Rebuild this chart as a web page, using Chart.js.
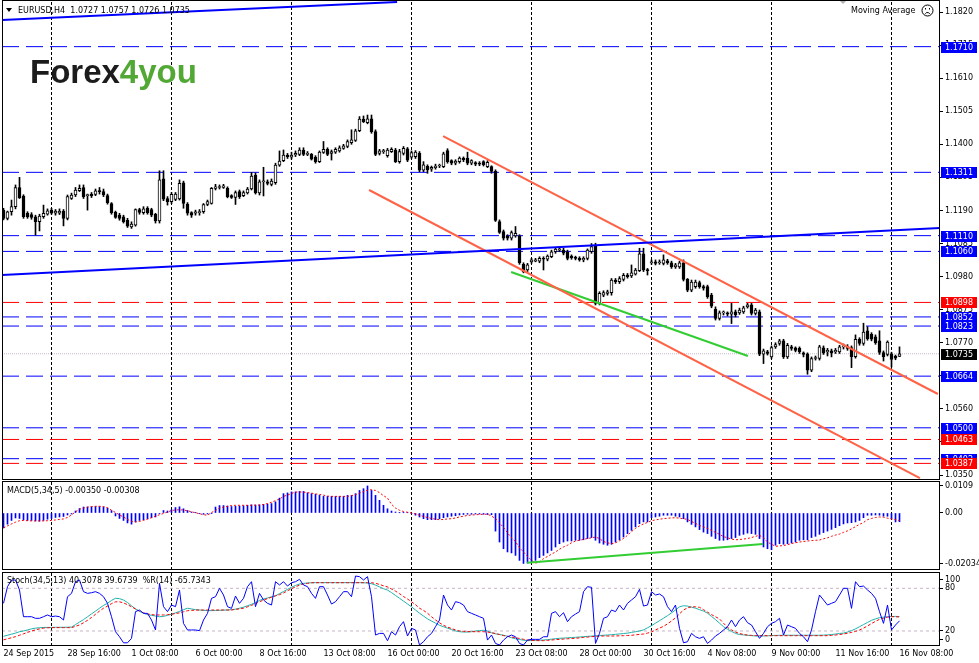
<!DOCTYPE html>
<html>
<head>
<meta charset="utf-8">
<script src="https://cdn.jsdelivr.net/npm/chart.js@4.4.0/dist/chart.umd.min.js"></script>
<style>
  html, body { margin: 0; padding: 0; background: #fff; }
  body { width: 979px; height: 663px; position: relative; overflow: hidden; }
  canvas { position: absolute; left: 0; }
</style>
</head>
<body>
<canvas id="priceChart" width="979" height="480" style="top:0px"></canvas>
<canvas id="macdChart" width="979" height="89" style="top:481px"></canvas>
<canvas id="stochChart" width="979" height="91" style="top:572px"></canvas>
<script>
// EURUSD H4 candles, 24 Sep 2015 00:00 .. 16 Nov 2015 08:00
const OPEN = [
  1.1191, 1.1165, 1.1186, 1.1202, 1.1263, 1.1236, 1.1181, 1.1177, 1.1170, 1.1154,
  1.1170, 1.1178, 1.1191, 1.1181, 1.1181, 1.1188, 1.1165, 1.1228, 1.1239, 1.1253,
  1.1263, 1.1237, 1.1242, 1.1241, 1.1252, 1.1250, 1.1237, 1.1212, 1.1185, 1.1175,
  1.1170, 1.1159, 1.1138, 1.1143, 1.1193, 1.1183, 1.1197, 1.1193, 1.1178, 1.1157,
  1.1290, 1.1228, 1.1218, 1.1225, 1.1227, 1.1278, 1.1210, 1.1183, 1.1181, 1.1183,
  1.1186, 1.1209, 1.1212, 1.1260, 1.1263, 1.1263, 1.1260, 1.1237, 1.1231, 1.1250,
  1.1237, 1.1246, 1.1258, 1.1302, 1.1246, 1.1281, 1.1281, 1.1273, 1.1278, 1.1334,
  1.1348, 1.1366, 1.1359, 1.1366, 1.1368, 1.1382, 1.1368, 1.1368, 1.1359, 1.1345,
  1.1374, 1.1384, 1.1371, 1.1375, 1.1379, 1.1387, 1.1393, 1.1405, 1.1412, 1.1443,
  1.1480, 1.1469, 1.1481, 1.1440, 1.1371, 1.1377, 1.1364, 1.1377, 1.1382, 1.1345,
  1.1371, 1.1386, 1.1359, 1.1361, 1.1371, 1.1318, 1.1330, 1.1321, 1.1326, 1.1331,
  1.1329, 1.1380, 1.1348, 1.1340, 1.1345, 1.1356, 1.1356, 1.1340, 1.1342, 1.1340,
  1.1345, 1.1329, 1.1329, 1.1314, 1.1155, 1.1123, 1.1109, 1.1102, 1.1109, 1.1109,
  1.1019, 1.1001, 1.1027, 1.1029, 1.1029, 1.1038, 1.1035, 1.1043, 1.1059, 1.1064,
  1.1064, 1.1059, 1.1045, 1.1040, 1.1038, 1.1033, 1.1038, 1.1059, 1.1080, 1.0895,
  1.0921, 1.0927, 1.0929, 1.0969, 1.0964, 1.0971, 1.0985, 1.0982, 1.0988, 1.0999,
  1.1052, 1.1001, 1.1024, 1.1027, 1.1024, 1.1022, 1.1030, 1.1024, 1.1011, 1.1011,
  1.1024, 1.0971, 1.0937, 1.0948, 1.0961, 1.0948, 1.0948, 1.0921, 1.0876, 1.0847,
  1.0865, 1.0865, 1.0861, 1.0868, 1.0865, 1.0868, 1.0884, 1.0890, 1.0863, 1.0868,
  1.0734, 1.0741, 1.0725, 1.0757, 1.0768, 1.0776, 1.0725, 1.0757, 1.0754, 1.0752,
  1.0738, 1.0734, 1.0683, 1.0720, 1.0720, 1.0754, 1.0741, 1.0744, 1.0741, 1.0741,
  1.0757, 1.0758, 1.0755, 1.0726, 1.0781, 1.0768, 1.0808, 1.0797, 1.0789, 1.0776,
  1.0739, 1.0733, 1.0735, 1.0728, 1.0727
];
const HIGH = [
  1.1197, 1.1188, 1.1223, 1.1271, 1.1295, 1.1240, 1.1186, 1.1183, 1.1175, 1.1178,
  1.1207, 1.1195, 1.1197, 1.1193, 1.1195, 1.1193, 1.1239, 1.1245, 1.1263, 1.1271,
  1.1271, 1.1242, 1.1247, 1.1258, 1.1263, 1.1258, 1.1242, 1.1215, 1.1188, 1.1181,
  1.1175, 1.1165, 1.1154, 1.1195, 1.1197, 1.1202, 1.1202, 1.1197, 1.1181, 1.1316,
  1.1316, 1.1234, 1.1247, 1.1247, 1.1287, 1.1283, 1.1215, 1.1186, 1.1191, 1.1193,
  1.1212, 1.1223, 1.1263, 1.1273, 1.1271, 1.1273, 1.1265, 1.1240, 1.1252, 1.1255,
  1.1252, 1.1263, 1.1311, 1.1309, 1.1287, 1.1327, 1.1287, 1.1290, 1.1340, 1.1379,
  1.1382, 1.1371, 1.1375, 1.1379, 1.1389, 1.1389, 1.1377, 1.1371, 1.1364, 1.1379,
  1.1409, 1.1389, 1.1382, 1.1389, 1.1395, 1.1400, 1.1414, 1.1446, 1.1448, 1.1488,
  1.1490, 1.1493, 1.1493, 1.1446, 1.1384, 1.1384, 1.1387, 1.1389, 1.1387, 1.1384,
  1.1393, 1.1390, 1.1379, 1.1380, 1.1377, 1.1345, 1.1335, 1.1331, 1.1337, 1.1337,
  1.1375, 1.1386, 1.1351, 1.1351, 1.1360, 1.1360, 1.1375, 1.1351, 1.1345, 1.1345,
  1.1348, 1.1348, 1.1332, 1.1319, 1.1160, 1.1128, 1.1113, 1.1125, 1.1139, 1.1113,
  1.1024, 1.1022, 1.1038, 1.1038, 1.1043, 1.1043, 1.1049, 1.1064, 1.1070, 1.1075,
  1.1070, 1.1064, 1.1049, 1.1045, 1.1043, 1.1043, 1.1068, 1.1085, 1.1086, 1.0932,
  1.0935, 1.0937, 1.0974, 1.0974, 1.0980, 1.0990, 1.0990, 1.1017, 1.1006, 1.1070,
  1.1070, 1.1006, 1.1033, 1.1033, 1.1033, 1.1049, 1.1035, 1.1029, 1.1022, 1.1029,
  1.1033, 1.0974, 1.0969, 1.0969, 1.0966, 1.0953, 1.0953, 1.0927, 1.0884, 1.0871,
  1.0871, 1.0868, 1.0895, 1.0874, 1.0880, 1.0886, 1.0895, 1.0895, 1.0879, 1.0874,
  1.0750, 1.0746, 1.0760, 1.0770, 1.0781, 1.0781, 1.0768, 1.0762, 1.0757, 1.0757,
  1.0741, 1.0738, 1.0725, 1.0728, 1.0762, 1.0760, 1.0752, 1.0750, 1.0752, 1.0762,
  1.0766, 1.0764, 1.0760, 1.0795, 1.0786, 1.0832, 1.0821, 1.0802, 1.0795, 1.0808,
  1.0744, 1.0776, 1.0740, 1.0731, 1.0757
];
const LOW = [
  1.1160, 1.1160, 1.1175, 1.1195, 1.1228, 1.1165, 1.1165, 1.1162, 1.1112, 1.1125,
  1.1165, 1.1175, 1.1178, 1.1175, 1.1177, 1.1141, 1.1160, 1.1225, 1.1234, 1.1250,
  1.1228, 1.1191, 1.1231, 1.1237, 1.1242, 1.1234, 1.1210, 1.1178, 1.1165, 1.1159,
  1.1150, 1.1136, 1.1133, 1.1140, 1.1178, 1.1178, 1.1178, 1.1170, 1.1150, 1.1150,
  1.1221, 1.1207, 1.1212, 1.1221, 1.1223, 1.1197, 1.1175, 1.1168, 1.1175, 1.1175,
  1.1181, 1.1205, 1.1210, 1.1255, 1.1258, 1.1260, 1.1230, 1.1228, 1.1209, 1.1228,
  1.1234, 1.1242, 1.1255, 1.1242, 1.1239, 1.1236, 1.1271, 1.1268, 1.1273, 1.1330,
  1.1345, 1.1355, 1.1353, 1.1361, 1.1364, 1.1364, 1.1364, 1.1350, 1.1340, 1.1342,
  1.1371, 1.1364, 1.1350, 1.1371, 1.1375, 1.1384, 1.1389, 1.1400, 1.1409, 1.1440,
  1.1469, 1.1465, 1.1435, 1.1364, 1.1366, 1.1371, 1.1359, 1.1374, 1.1342, 1.1340,
  1.1366, 1.1345, 1.1355, 1.1355, 1.1313, 1.1313, 1.1308, 1.1314, 1.1321, 1.1326,
  1.1326, 1.1340, 1.1335, 1.1335, 1.1340, 1.1345, 1.1335, 1.1335, 1.1332, 1.1332,
  1.1331, 1.1326, 1.1308, 1.1155, 1.1117, 1.1096, 1.1096, 1.1096, 1.1105, 1.1019,
  1.0992, 1.0996, 1.1022, 1.1027, 1.1024, 1.1001, 1.1030, 1.1040, 1.1054, 1.1059,
  1.1049, 1.1033, 1.1035, 1.1033, 1.1029, 1.1027, 1.1033, 1.1054, 1.0890, 1.0890,
  1.0916, 1.0921, 1.0921, 1.0958, 1.0958, 1.0966, 1.0975, 1.0977, 1.0985, 1.0996,
  1.0996, 1.0985, 1.1019, 1.1017, 1.1019, 1.1017, 1.1019, 1.1006, 1.1006, 1.1006,
  1.0966, 1.0932, 1.0932, 1.0943, 1.0943, 1.0937, 1.0911, 1.0881, 1.0842, 1.0842,
  1.0858, 1.0855, 1.0831, 1.0852, 1.0860, 1.0863, 1.0880, 1.0858, 1.0858, 1.0729,
  1.0704, 1.0731, 1.0720, 1.0752, 1.0762, 1.0720, 1.0720, 1.0746, 1.0741, 1.0736,
  1.0725, 1.0670, 1.0678, 1.0715, 1.0715, 1.0733, 1.0728, 1.0725, 1.0736, 1.0736,
  1.0750, 1.0746, 1.0691, 1.0721, 1.0762, 1.0762, 1.0778, 1.0776, 1.0765, 1.0733,
  1.0712, 1.0728, 1.0693, 1.0716, 1.0726
];
const CLOSE = [
  1.1165, 1.1186, 1.1202, 1.1263, 1.1230, 1.1170, 1.1170, 1.1168, 1.1154, 1.1172,
  1.1181, 1.1189, 1.1181, 1.1188, 1.1188, 1.1165, 1.1234, 1.1239, 1.1255, 1.1260,
  1.1234, 1.1237, 1.1237, 1.1252, 1.1250, 1.1239, 1.1215, 1.1183, 1.1168, 1.1165,
  1.1154, 1.1140, 1.1147, 1.1193, 1.1184, 1.1195, 1.1183, 1.1175, 1.1157, 1.1287,
  1.1226, 1.1218, 1.1241, 1.1242, 1.1276, 1.1212, 1.1181, 1.1175, 1.1186, 1.1186,
  1.1209, 1.1218, 1.1260, 1.1265, 1.1263, 1.1268, 1.1234, 1.1231, 1.1247, 1.1234,
  1.1247, 1.1258, 1.1299, 1.1246, 1.1281, 1.1283, 1.1276, 1.1283, 1.1334, 1.1347,
  1.1366, 1.1361, 1.1366, 1.1371, 1.1382, 1.1368, 1.1371, 1.1353, 1.1345, 1.1375,
  1.1384, 1.1368, 1.1377, 1.1384, 1.1389, 1.1395, 1.1409, 1.1414, 1.1443, 1.1480,
  1.1472, 1.1481, 1.1440, 1.1368, 1.1379, 1.1379, 1.1382, 1.1384, 1.1345, 1.1377,
  1.1387, 1.1350, 1.1374, 1.1375, 1.1318, 1.1335, 1.1319, 1.1327, 1.1331, 1.1331,
  1.1370, 1.1345, 1.1340, 1.1347, 1.1356, 1.1351, 1.1340, 1.1348, 1.1337, 1.1337,
  1.1335, 1.1343, 1.1314, 1.1158, 1.1120, 1.1102, 1.1102, 1.1120, 1.1117, 1.1024,
  1.0996, 1.1017, 1.1033, 1.1033, 1.1038, 1.1035, 1.1045, 1.1059, 1.1067, 1.1068,
  1.1054, 1.1038, 1.1040, 1.1038, 1.1033, 1.1038, 1.1064, 1.1075, 1.0895, 1.0927,
  1.0929, 1.0932, 1.0969, 1.0964, 1.0974, 1.0984, 1.0980, 1.0992, 1.1001, 1.1052,
  1.1001, 1.0999, 1.1027, 1.1022, 1.1027, 1.1033, 1.1024, 1.1011, 1.1017, 1.1024,
  1.0971, 1.0937, 1.0963, 1.0963, 1.0948, 1.0943, 1.0916, 1.0886, 1.0847, 1.0865,
  1.0865, 1.0861, 1.0868, 1.0858, 1.0874, 1.0881, 1.0890, 1.0863, 1.0874, 1.0734,
  1.0744, 1.0736, 1.0755, 1.0764, 1.0776, 1.0725, 1.0762, 1.0752, 1.0746, 1.0741,
  1.0733, 1.0683, 1.0720, 1.0722, 1.0757, 1.0738, 1.0746, 1.0738, 1.0746, 1.0757,
  1.0760, 1.0752, 1.0726, 1.0781, 1.0768, 1.0804, 1.0783, 1.0781, 1.0770, 1.0739,
  1.0726, 1.0772, 1.0717, 1.0721, 1.0735
];

// MACD(5,34,5): main (histogram) and signal
const MACD_MAIN = [
  -0.0060, -0.0045, -0.0030, -0.0020, -0.0022, -0.0028, -0.0030, -0.0030, -0.0032, -0.0033,
  -0.0030, -0.0025, -0.0022, -0.0018, -0.0016, -0.0014, -0.0008, -0.0004, 0.0008, 0.0018,
  0.0024, 0.0024, 0.0025, 0.0026, 0.0026, 0.0024, 0.0020, 0.0010, -0.0012, -0.0022,
  -0.0030, -0.0040, -0.0045, -0.0036, -0.0030, -0.0027, -0.0023, -0.0019, -0.0016, -0.0003,
  0.0010, 0.0008, 0.0013, 0.0022, 0.0025, 0.0017, 0.0010, 0.0004, 0.0001, -0.0003,
  -0.0005, -0.0004, -0.0001, 0.0024, 0.0030, 0.0030, 0.0028, 0.0026, 0.0027, 0.0028,
  0.0029, 0.0031, 0.0033, 0.0032, 0.0033, 0.0035, 0.0036, 0.0038, 0.0045, 0.0060,
  0.0078, 0.0081, 0.0085, 0.0085, 0.0087, 0.0087, 0.0081, 0.0078, 0.0075, 0.0071,
  0.0067, 0.0067, 0.0067, 0.0067, 0.0067, 0.0067, 0.0071, 0.0071, 0.0078, 0.0091,
  0.0098, 0.0109, 0.0091, 0.0071, 0.0051, 0.0031, 0.0017, 0.0008, 0.0004, 0.0001,
  0.0001, 0.0001, -0.0003, -0.0009, -0.0016, -0.0023, -0.0027, -0.0027, -0.0027, -0.0023,
  -0.0019, -0.0016, -0.0013, -0.0011, -0.0008, -0.0006, -0.0005, -0.0005, -0.0004, -0.0004,
  -0.0005, -0.0006, -0.0007, -0.0073, -0.0117, -0.0144, -0.0157, -0.0161, -0.0171, -0.0191,
  -0.02034, -0.0202, -0.0198, -0.0191, -0.0180, -0.0171, -0.0161, -0.0151, -0.0137, -0.0124,
  -0.0117, -0.0113, -0.0113, -0.0110, -0.0110, -0.0108, -0.0103, -0.0099, -0.0110, -0.0121,
  -0.0126, -0.0130, -0.0126, -0.0117, -0.0108, -0.0097, -0.0083, -0.0070, -0.0056, -0.0043,
  -0.0036, -0.0036, -0.0019, -0.0016, -0.0013, -0.0009, -0.0009, -0.0009, -0.0013, -0.0016,
  -0.0023, -0.0036, -0.0046, -0.0056, -0.0067, -0.0077, -0.0083, -0.0094, -0.0103, -0.0110,
  -0.0110, -0.0108, -0.0103, -0.0099, -0.0090, -0.0086, -0.0081, -0.0083, -0.0086, -0.0103,
  -0.0137, -0.0144, -0.0148, -0.0130, -0.0124, -0.0126, -0.0124, -0.0121, -0.0117, -0.0110,
  -0.0108, -0.0108, -0.0099, -0.0094, -0.0086, -0.0079, -0.0073, -0.0066, -0.0059, -0.0051,
  -0.0044, -0.0040, -0.0039, -0.0036, -0.0030, -0.0019, -0.0009, -0.0009, -0.0008, -0.0009,
  -0.0013, -0.0013, -0.0023, -0.0036, -0.00350
];
const MACD_SIGNAL = [
  -0.0060, -0.0052, -0.0044, -0.0037, -0.0031, -0.0030, -0.0031, -0.0032, -0.0032, -0.0032,
  -0.0032, -0.0031, -0.0030, -0.0028, -0.0026, -0.0024, -0.0018, -0.0008, 0.0005, 0.0015,
  0.0020, 0.0024, 0.0026, 0.0027, 0.0027, 0.0026, 0.0021, 0.0011, 0.0002, -0.0008,
  -0.0016, -0.0026, -0.0034, -0.0036, -0.0034, -0.0030, -0.0025, -0.0019, -0.0013, -0.0007,
  -0.0002, 0.0004, 0.0010, 0.0012, 0.0013, 0.0012, 0.0009, 0.0005, 0.0001, -0.0003,
  -0.0007, -0.0009, 0.0002, 0.0010, 0.0020, 0.0024, 0.0027, 0.0030, 0.0031, 0.0031,
  0.0031, 0.0031, 0.0031, 0.0032, 0.0032, 0.0034, 0.0038, 0.0043, 0.0050, 0.0056,
  0.0067, 0.0072, 0.0079, 0.0084, 0.0085, 0.0084, 0.0082, 0.0080, 0.0077, 0.0075,
  0.0072, 0.0068, 0.0067, 0.0067, 0.0067, 0.0067, 0.0067, 0.0070, 0.0074, 0.0080,
  0.0086, 0.0092, 0.0094, 0.0091, 0.0082, 0.0070, 0.0060, 0.0035, 0.0020, 0.0011,
  0.0006, 0.0003, 0.0000, -0.0004, -0.0009, -0.0014, -0.0018, -0.0022, -0.0025, -0.0027,
  -0.0026, -0.0024, -0.0023, -0.0020, -0.0016, -0.0013, -0.0010, -0.0008, -0.0007, -0.0006,
  -0.0005, -0.0005, -0.0012, -0.0023, -0.0040, -0.0058, -0.0080, -0.0100, -0.0115, -0.0140,
  -0.0157, -0.0175, -0.0191, -0.0202, -0.0198, -0.0184, -0.0175, -0.0166, -0.0157, -0.0146,
  -0.0137, -0.0130, -0.0120, -0.0113, -0.0110, -0.0106, -0.0103, -0.0100, -0.0097, -0.0103,
  -0.0115, -0.0120, -0.0124, -0.0120, -0.0112, -0.0103, -0.0090, -0.0075, -0.0062, -0.0052,
  -0.0044, -0.0038, -0.0031, -0.0028, -0.0025, -0.0023, -0.0021, -0.0020, -0.0019, -0.0021,
  -0.0023, -0.0026, -0.0034, -0.0042, -0.0050, -0.0057, -0.0062, -0.0070, -0.0078, -0.0086,
  -0.0095, -0.0100, -0.0105, -0.0108, -0.0107, -0.0105, -0.0103, -0.0099, -0.0094, -0.0090,
  -0.0100, -0.0117, -0.0126, -0.0134, -0.0133, -0.0131, -0.0128, -0.0123, -0.0120, -0.0117,
  -0.0115, -0.0113, -0.0111, -0.0110, -0.0109, -0.0104, -0.0100, -0.0094, -0.0089, -0.0085,
  -0.0078, -0.0072, -0.0064, -0.0055, -0.0046, -0.0038, -0.0027, -0.0022, -0.0018, -0.0016,
  -0.0017, -0.0021, -0.0024, -0.0027, -0.00308
];

// Stochastic(34,5,13) main and signal, Williams %R(14)
const STOCH_MAIN = [
  12.5, 14, 15.5, 17, 19, 20, 21.5, 23, 24, 24.5,
  25, 25, 25, 25.2, 25.2, 25.2, 25.3, 25.5, 29, 32.5,
  36, 40, 44, 48, 52, 56, 59, 63, 66, 65.5,
  63.5, 60, 55.5, 51, 47.5, 45, 43, 42, 41, 40,
  40.5, 42, 43.5, 45.5, 47.5, 50, 52, 51, 50, 49.5,
  49, 48.8, 48.6, 48.8, 49, 49.3, 49.5, 50, 50.7, 52,
  53.5, 55.5, 57.5, 60, 63, 65, 66.5, 68, 69.5, 72.5,
  75.5, 78.5, 81.5, 84, 86, 87, 87.5, 87.8, 88, 88,
  88, 88, 88, 88, 88, 88, 88, 88, 88, 88,
  87.8, 87.5, 86.5, 84.5, 82, 79.5, 77.5, 74, 70, 66,
  62, 58, 54, 49.5, 45, 41, 37, 34, 31, 28,
  26, 24, 22, 20, 19, 18.5, 18.5, 19, 20, 20.5,
  21, 20, 17.5, 16, 15, 14, 12.5, 10.5, 9, 8,
  7, 6.5, 6.5, 6.8, 7, 7.3, 7.8, 8.5, 9.2, 9.7,
  10, 10.4, 10.8, 11.1, 11.5, 12, 12.4, 12.8, 13.2, 13.6,
  14, 14.3, 14.8, 15.3, 15.8, 16.4, 17, 18, 19, 20,
  21.5, 24.5, 27.5, 31, 34.5, 38, 41.5, 45.5, 49.5, 54,
  55.5, 55, 53.5, 52, 50, 48, 45, 40.5, 36, 31,
  26, 22.5, 19.5, 16.5, 15, 14.5, 14, 13.5, 13, 13,
  13, 13.2, 13.5, 13.8, 13.9, 14, 14, 14, 14, 14,
  14, 14, 14, 14, 14, 14.2, 14.5, 15, 15.7, 16.5,
  17, 18.5, 20.5, 23, 26, 29, 32, 35, 37, 38.8,
  39.5, 40, 40.3, 40.5, 40.3078
];
const STOCH_SIGNAL = [
  7.5, 9, 10.5, 12, 14, 16, 18, 20, 21.5, 23,
  24, 24.5, 24.7, 24.7, 24.7, 24.7, 24.7, 24.7, 26.5, 28.5,
  31.5, 35, 39, 43.5, 48, 52, 55, 58.5, 61, 61,
  59.5, 57, 54, 51, 48, 45.5, 44, 43, 42.5, 42.5,
  42.5, 43, 43.5, 44.5, 45.5, 47, 48.5, 49, 49.3, 49.5,
  49.5, 49.5, 49.5, 49.5, 49.5, 49.5, 49.5, 49.5, 50.5, 51,
  52, 54, 56, 58.5, 61, 63.5, 65.5, 67.5, 69.5, 71,
  73.5, 76.5, 79.5, 82, 84.5, 86, 87, 87.9, 87.9, 87.9,
  87.9, 87.9, 87.9, 87.9, 87.9, 87.9, 87.9, 87.9, 87.9, 87.9,
  87.9, 87.9, 87.9, 87, 85.5, 83.5, 82, 79, 76, 72.5,
  68.5, 65, 61, 57, 52, 49, 45, 40, 35.5, 31.5,
  28, 25.5, 23.5, 21.5, 20, 19.5, 19.2, 19, 19, 19,
  19, 18.5, 17.5, 16.5, 15, 13.5, 12.5, 11.5, 10.5, 9.5,
  8.3, 7.3, 6.8, 6.5, 6.4, 6.4, 6.8, 7.3, 7.8, 8.2,
  8.6, 9, 9.4, 9.7, 10.3, 10.9, 11.4, 12, 12.4, 12.7,
  12.9, 12.9, 12.9, 13, 13.2, 13.4, 13.6, 14, 14.5, 15.2,
  15.7, 17, 18.5, 21.5, 24, 26.5, 30, 34, 38.5, 44,
  49.5, 52.5, 54, 54, 53.3, 50, 46.5, 43, 40, 37,
  31, 25, 21.5, 18.5, 16.5, 15, 14.2, 13.8, 13.6, 13.4,
  13.4, 13.4, 13.4, 13.4, 13.4, 13.4, 13.4, 13.4, 13.4, 13.4,
  13.4, 13.4, 13.4, 13.4, 13.4, 13.4, 13.4, 13.8, 14.3, 15,
  15.8, 16.8, 18, 19.5, 21.3, 24, 27, 30.5, 33.5, 36.4,
  38, 39.5, 40.1, 40, 39.6739
];
const WPR = [
  -41.1, -17.7, -8.3, -8.3, -22.3, -59.9, -59.9, -59.9, -62.2, -62.2,
  -59.9, -57.5, -59.9, -59.0, -59.9, -64.6, -31.8, -27.1, -10.7, -8.3,
  -24.7, -27.1, -26.2, -24.7, -27.1, -31.8, -41.1, -59.9, -81.0, -88.1,
  -96.6, -96.6, -90.4, -52.8, -50.5, -55.2, -55.2, -64.6, -78.6, -13.0,
  -45.8, -52.8, -43.5, -45.8, -22.3, -69.3, -78.6, -78.6, -78.6, -79.6,
  -64.6, -55.2, -34.1, -31.8, -20.0, -29.4, -45.8, -48.2, -30.9, -41.1,
  -34.1, -17.7, -10.7, -45.8, -27.1, -36.4, -41.1, -43.5, -10.7, -15.3,
  -10.7, -16.8, -12.1, -10.7, -7.4, -15.3, -17.7, -27.1, -34.1, -17.7,
  -17.7, -29.4, -42.1, -38.8, -31.8, -24.7, -24.7, -31.8, -2.7, -3.6,
  -8.3, -3.6, -31.8, -85.7, -83.4, -83.4, -93.7, -81.0, -85.7, -74.0,
  -66.9, -87.1, -76.3, -78.6, -99.7, -95.1, -88.1, -83.4, -74.0, -64.6,
  -29.4, -43.5, -50.5, -38.8, -40.2, -43.5, -52.8, -55.2, -57.5, -59.9,
  -62.2, -92.8, -85.7, -97.5, -99.7, -92.8, -88.1, -85.7, -88.1, -97.5,
  -99.7, -92.8, -91.8, -91.8, -91.8, -88.1, -88.1, -55.2, -52.8, -59.9,
  -54.3, -66.9, -59.9, -56.2, -52.8, -24.7, -17.7, -18.6, -97.5, -83.4,
  -62.2, -59.9, -50.5, -52.8, -43.5, -50.5, -41.1, -36.4, -31.8, -21.4,
  -44.9, -43.5, -24.7, -29.4, -28.0, -31.8, -45.8, -52.8, -43.5, -76.3,
  -96.6, -95.1, -83.4, -88.1, -90.4, -88.1, -97.5, -92.8, -87.1, -83.4,
  -78.6, -74.0, -64.6, -74.0, -64.6, -59.9, -68.3, -71.6, -81.0, -90.4,
  -83.4, -74.0, -69.3, -66.9, -62.2, -85.7, -71.6, -74.0, -76.3, -83.4,
  -88.1, -95.1, -78.6, -52.8, -29.4, -36.4, -43.5, -41.1, -38.8, -29.4,
  -20.0, -20.0, -48.2, -10.7, -17.7, -16.8, -22.3, -27.1, -34.1, -52.8,
  -69.3, -43.5, -78.6, -71.6, -65.7343
];

// time axis: bar index of each label, and Monday period separators
const TIME_TICKS = [0, 16, 32, 48, 64, 80, 96, 112, 128, 144, 160, 176, 192, 208, 224];
const TIME_LABELS = ['24 Sep 2015', '28 Sep 16:00', '1 Oct 08:00', '6 Oct 00:00', '8 Oct 16:00',
  '13 Oct 08:00', '16 Oct 00:00', '20 Oct 16:00', '23 Oct 08:00', '28 Oct 00:00',
  '30 Oct 16:00', '4 Nov 08:00', '9 Nov 00:00', '11 Nov 16:00', '16 Nov 08:00'];
const SEPARATORS = [12, 42, 72, 102, 132, 162, 192, 222];

// price axis ticks and horizontal levels
const PRICE_TICKS = [1.1820, 1.1715, 1.1610, 1.1505, 1.1400, 1.1295, 1.1190, 1.1085,
  1.0980, 1.0875, 1.0770, 1.0665, 1.0560, 1.0455, 1.0350];
const LEVELS = [1.1710, 1.1311, 1.1110, 1.1060, 1.0898, 1.0852, 1.0823, 1.0664, 1.0500, 1.0463, 1.0402, 1.0387];
const LEVEL_COLORS = ['#0000ff', '#0000ff', '#0000ff', '#0000ff', '#ff0000', '#0000ff', '#0000ff',
  '#0000ff', '#0000ff', '#ff0000', '#0000ff', '#ff0000'];

// trend lines: [bar index, value] end points
const TREND_TOP = [[-0.375, 1.1795], [98.4, 1.18517]];
const TREND_MAIN = [[-0.375, 1.0985], [234.1, 1.11343]];
const CHANNEL_UPPER = [[109.9, 1.14263], [233.6, 1.06073]];
const CHANNEL_LOWER = [[91.4, 1.12549], [229.1, 1.03406]];
const DIVERGENCE_PRICE = [[126.9, 1.09946], [186.1, 1.07279]];
const DIVERGENCE_MACD = [[130.9, -0.02004], [189.9, -0.0125]];

const MACD_TICKS = [0.0109, 0, -0.02034];
const MACD_TICK_LABELS = ['0.0109', '0.00', '-0.02034'];
const STOCH_TICKS = [80, 20];
const STOCH_BOUNDS = [100, 0];
const STOCH_LEVELS = [80, 20];

// visible ranges of the three windows
const X_MIN = -0.375, X_MAX = 234.125;
const PRICE_MIN = 1.03343, PRICE_MAX = 1.18581;
const MACD_MIN = -0.02298, MACD_MAX = 0.0129;
const STOCH_MIN = -1.125, STOCH_MAX = 102.95;

const LAST = CLOSE.length - 1;
const FONT = '8px "DejaVu Sans"';

Chart.defaults.font.family = '"DejaVu Sans", sans-serif';
Chart.defaults.font.size = 8;
Chart.defaults.color = '#000';
Chart.defaults.animation = false;
Chart.defaults.events = [];
Chart.defaults.plugins.legend.display = false;
Chart.defaults.plugins.tooltip.enabled = false;

const points = arr => arr.map((v, i) => ({ x: i, y: v }));
const segment = pts => pts.map(p => ({ x: p[0], y: p[1] }));
const horizontal = v => [{ x: X_MIN, y: v }, { x: X_MAX, y: v }];
const verticals = (lo, hi) => SEPARATORS.flatMap(s => [{ x: s, y: lo }, { x: s, y: hi }, { x: s, y: null }]);

function line(data, color, width, dash, order, extra) {
  return Object.assign({
    type: 'line', data: data, borderColor: color, borderWidth: width, borderDash: dash,
    pointRadius: 0, tension: 0, fill: false, order: order
  }, extra || {});
}

function xScale(show) {
  return {
    type: 'linear', min: X_MIN, max: X_MAX, offset: false, display: show,
    grid: { display: false, drawTicks: false },
    border: { display: false },
    afterBuildTicks: s => { s.ticks = TIME_TICKS.map(v => ({ value: v })); },
    afterFit: s => {
      s.height = show ? 17 : 0;
      s.paddingLeft = 0;
      s.paddingRight = 0;
    },
    ticks: {
      autoSkip: false, maxRotation: 0, minRotation: 0, align: 'start', padding: 3,
      callback: (v, i) => TIME_LABELS[i]
    }
  };
}

function yScale(min, max, ticks, fmt) {
  return {
    type: 'linear', position: 'right', min: min, max: max, beginAtZero: false,
    grid: { display: true, drawOnChartArea: false, drawTicks: true, tickLength: 3, color: '#000' },
    border: { display: false },
    afterBuildTicks: s => { s.ticks = ticks.map(v => ({ value: v })); },
    afterFit: s => { s.width = 39; s.paddingTop = 0; s.paddingBottom = 0; },
    ticks: { autoSkip: false, padding: 2, callback: fmt }
  };
}

const frame = {
  id: 'frame',
  afterDraw(chart) {
    const { ctx, chartArea: a } = chart;
    ctx.save();
    ctx.strokeStyle = '#000';
    ctx.lineWidth = 1;
    ctx.strokeRect(a.left + 0.5, a.top + 0.5, a.right - a.left - 1, a.bottom - a.top - 1);
    ctx.restore();
  }
};

function caption(text, y) {
  return {
    id: 'caption',
    afterDraw(chart) {
      const ctx = chart.ctx;
      ctx.save();
      ctx.font = FONT;
      ctx.fillStyle = '#000';
      ctx.textBaseline = 'middle';
      ctx.fillText(text, 7, y);
      ctx.restore();
    }
  };
}

// window max / min labels sit just inside the window, as in the terminal
const stochBounds = {
  id: 'stochBounds',
  afterDraw(chart) {
    const { ctx, chartArea: a, scales } = chart;
    ctx.save();
    ctx.font = FONT;
    ctx.fillStyle = '#000';
    ctx.textBaseline = 'middle';
    STOCH_BOUNDS.forEach((v, k) => {
      const y = Math.round(scales.y.getPixelForValue(v)) + (k === 0 ? 5 : -6);
      ctx.fillRect(a.right, y, 3, 1);
      ctx.fillText(String(v), a.right + 5, y + 0.5);
    });
    ctx.restore();
  }
};

// price window extras: tags on the axis, header, logo
const TAG_VALUES = LEVELS.concat([CLOSE[LAST]]);
const TAG_COLORS = LEVEL_COLORS.concat(['#000000']);

const priceOverlay = {
  id: 'priceOverlay',
  afterDraw(chart) {
    const { ctx, chartArea: a, scales } = chart;
    ctx.save();
    ctx.font = FONT;
    ctx.textBaseline = 'middle';
    TAG_VALUES.forEach((v, k) => {
      const y = Math.round(scales.y.getPixelForValue(v));
      ctx.fillStyle = TAG_COLORS[k];
      ctx.fillRect(a.right + 1, y - 5, 36, 11);
      ctx.fillStyle = '#fff';
      ctx.fillText(v.toFixed(4), a.right + 5, y + 0.5);
    });

    // header
    ctx.fillStyle = '#000';
    ctx.beginPath();
    ctx.moveTo(6, 8); ctx.lineTo(12, 8); ctx.lineTo(9, 12); ctx.closePath();
    ctx.fill();
    const head = 'EURUSD,H4  ' + [OPEN[LAST], HIGH[LAST], LOW[LAST], CLOSE[LAST]].map(v => v.toFixed(4)).join(' ');
    ctx.fillText(head, 18, 10.5);

    // indicator name and smiley
    ctx.fillText('Moving Average', 851, 11);
    ctx.strokeStyle = '#000';
    ctx.lineWidth = 1;
    ctx.beginPath(); ctx.arc(927.5, 10.5, 5.5, 0, Math.PI * 2); ctx.stroke();
    ctx.fillRect(925, 8, 1, 1.5); ctx.fillRect(929, 8, 1, 1.5);
    ctx.beginPath(); ctx.arc(927.5, 15, 2.5, Math.PI * 1.15, Math.PI * 1.85); ctx.stroke();
    ctx.fillStyle = '#b0b0b0';
    ctx.beginPath(); ctx.moveTo(840, 1); ctx.lineTo(846, 1); ctx.lineTo(843, 4); ctx.closePath(); ctx.fill();

    // logo
    ctx.textBaseline = 'alphabetic';
    ctx.font = 'bold 33px "Liberation Sans"';
    ctx.fillStyle = '#1c1c1c';
    ctx.fillText('Forex', 30, 83);
    const w = ctx.measureText('Forex').width;
    ctx.fillStyle = '#52a834';
    ctx.fillText('4you', 30 + w, 83);
    ctx.restore();
  }
};

const BARS = CLOSE.map((_, i) => i);

new Chart(document.getElementById('priceChart'), {
  type: 'bar',
  data: {
    datasets: [
      line(segment(TREND_TOP), '#0000ff', 2, [], 0),
      line(segment(TREND_MAIN), '#0000ff', 2, [], 0),
      line(segment(CHANNEL_UPPER), '#ff6347', 2, [], 0),
      line(segment(CHANNEL_LOWER), '#ff6347', 2, [], 0),
      line(segment(DIVERGENCE_PRICE), '#32cd32', 2, [], 0),
      {
        type: 'bar', order: 1, grouped: false,
        data: BARS.map(i => ({ x: i, y: [OPEN[i], CLOSE[i]] })),
        backgroundColor: c => CLOSE[c.dataIndex] >= OPEN[c.dataIndex] ? '#ffffff' : '#000000',
        borderColor: '#000000', borderWidth: 1, borderSkipped: false,
        barThickness: 3, minBarLength: 1
      },
      {
        type: 'bar', order: 2, grouped: false,
        data: BARS.map(i => ({ x: i, y: [LOW[i], HIGH[i]] })),
        backgroundColor: '#000000', borderWidth: 0, barThickness: 1
      },
      ...LEVELS.map((v, k) => line(horizontal(v), LEVEL_COLORS[k], 1, [17, 7], 3)),
      line(horizontal(CLOSE[LAST]), '#c4b8c8', 1, [1, 1], 3),
      line(verticals(PRICE_MIN, PRICE_MAX), '#000000', 1, [3, 2], 4)
    ]
  },
  options: {
    responsive: false,
    layout: { padding: { left: 2, top: 0, right: 0, bottom: 0 } },
    scales: {
      x: xScale(false),
      y: yScale(PRICE_MIN, PRICE_MAX, PRICE_TICKS, v => v.toFixed(4))
    }
  },
  plugins: [frame, priceOverlay]
});

new Chart(document.getElementById('macdChart'), {
  type: 'bar',
  data: {
    datasets: [
      line(segment(DIVERGENCE_MACD), '#32cd32', 2, [], 0),
      line(points(MACD_SIGNAL), '#ff0000', 1, [2, 2], 1),
      {
        type: 'bar', order: 2, grouped: false,
        data: points(MACD_MAIN),
        backgroundColor: '#0000ff', borderWidth: 0, barThickness: 1
      },
      line(verticals(MACD_MIN, MACD_MAX), '#000000', 1, [3, 2], 4)
    ]
  },
  options: {
    responsive: false,
    layout: { padding: { left: 2, top: 0, right: 0, bottom: 0 } },
    scales: {
      x: xScale(false),
      y: yScale(MACD_MIN, MACD_MAX, MACD_TICKS, (v, i) => MACD_TICK_LABELS[i])
    }
  },
  plugins: [frame, caption('MACD(5,34,5) ' + MACD_MAIN[LAST].toFixed(5) + ' ' + MACD_SIGNAL[LAST].toFixed(5), 10)]
});

new Chart(document.getElementById('stochChart'), {
  type: 'bar',
  data: {
    datasets: [
      line(points(WPR), '#0000ff', 1, [], 0, { yAxisID: 'yR' }),
      line(points(STOCH_SIGNAL), '#ff0000', 1, [3, 2], 1),
      line(points(STOCH_MAIN), '#20b2aa', 1, [], 2),
      ...STOCH_LEVELS.map(v => line(horizontal(v), '#c8b4c8', 1, [3, 3], 3)),
      line(verticals(STOCH_MIN, STOCH_MAX), '#000000', 1, [3, 2], 4)
    ]
  },
  options: {
    responsive: false,
    layout: { padding: { left: 2, top: 0, right: 0, bottom: 0 } },
    scales: {
      x: xScale(true),
      y: yScale(STOCH_MIN, STOCH_MAX, STOCH_TICKS, v => String(v)),
      yR: { type: 'linear', display: false, min: STOCH_MIN - 100, max: STOCH_MAX - 100 }
    }
  },
  plugins: [frame, stochBounds, caption('Stoch(34,5,13) ' + STOCH_MAIN[LAST].toFixed(4) + ' ' +
    STOCH_SIGNAL[LAST].toFixed(4) + '  %R(14) ' + WPR[LAST].toFixed(4), 9)]
});
</script>
</body>
</html>
